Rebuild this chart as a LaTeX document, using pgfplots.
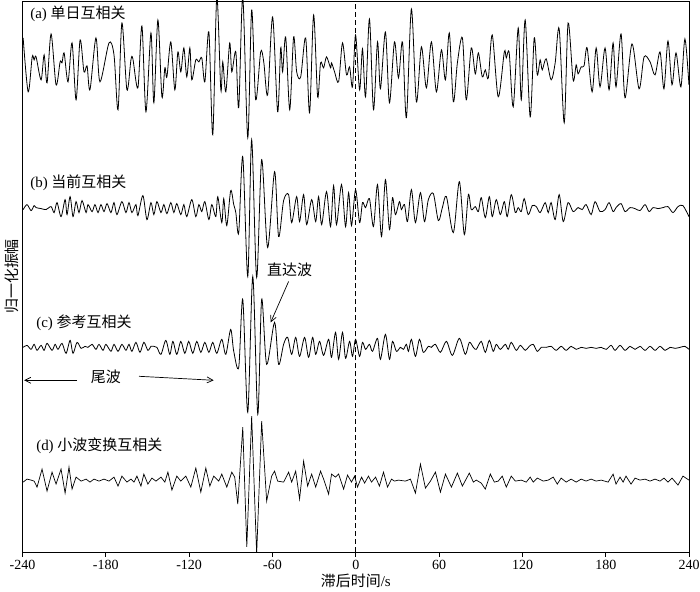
\documentclass[border=0pt]{standalone}
\usepackage{fontspec}
\setmainfont{Liberation Serif}
\newfontfamily\cjk{Noto Sans CJK SC}
\usepackage{pgfplots}
\pgfplotsset{compat=1.18}
\usepackage{pgfplotstable}
\usetikzlibrary{arrows.meta}

% traces: lag time (s), vertical position (trace offset included)
\pgfplotstableread{
t y
-239.5 515
-235.9 461
-233.0 496
-231.6 493
-230.2 496
-226.6 473
-224.4 498
-222.3 470
-219.4 519
-215.8 468
-212.9 491
-211.5 490
-210.0 500
-207.2 471
-204.3 510
-201.4 453
-198.5 513
-195.7 481
-193.5 487
-191.4 463
-187.1 515
-184.2 471
-177.7 510
-174.1 498
-171.2 443
-168.4 530
-164.8 463
-161.9 493
-160.5 494
-156.9 465
-154.0 527
-151.1 441
-147.5 520
-145.4 450
-142.5 533
-139.6 456
-137.5 485
-136.0 476
-133.2 511
-130.3 463
-128.1 501
-126.0 481
-123.8 505
-121.7 476
-119.5 505
-118.1 473
-115.2 493
-113.0 491
-110.9 495
-108.7 471
-105.8 521
-103.0 418
-100.1 556
-97.2 463
-95.8 491
-93.6 461
-90.8 510
-89.3 481
-86.4 501
-84.3 445
-81.4 556
-77.8 415
-75.0 543
-72.1 453
-68.5 501
-66.3 491
-63.5 458
-59.9 536
-56.3 441
-54.1 505
-52.7 481
-50.5 516
-47.6 443
-44.8 516
-42.6 481
-39.7 476
-36.1 515
-33.3 440
-30.4 538
-27.5 456
-25.4 490
-23.2 485
-21.1 496
-18.2 485
-17.5 490
-15.3 481
-12.4 471
-9.6 510
-6.7 478
-4.5 486
-2.4 466
-0.2 518
2.7 463
4.8 504
7.0 456
9.8 534
12.7 443
15.6 511
17.7 464
21.3 521
24.2 450
27.8 511
30.7 475
33.6 511
36.4 435
40.0 544
43.6 451
47.2 506
50.8 465
54.4 511
58.0 461
61.6 503
64.5 473
67.3 520
70.2 451
73.1 490
76.7 515
79.5 453
83.1 505
86.0 479
88.2 500
91.0 476
93.2 483
95.4 475
98.2 518
102.5 456
106.9 501
108.3 495
110.4 500
113.3 446
116.9 525
119.1 453
121.9 533
125.5 436
128.4 515
130.6 478
132.7 493
134.2 483
137.0 494
140.6 473
143.5 490
146.4 524
150.0 430
152.8 530
156.4 473
158.6 488
160.0 479
162.2 486
164.3 487
166.5 505
170.1 461
173.0 505
175.8 466
179.4 505
182.3 463
185.2 510
187.3 466
190.9 519
193.8 455
198.8 509
203.9 464
207.5 496
211.8 491
215.4 478
219.0 501
221.8 464
224.7 512
227.6 468
230.5 500
234.0 466
236.9 514
239.8 468
}\tracea

\pgfplotstableread{
t y
-239.5 343
-236.7 348
-233.8 342
-231.6 347
-230.2 345
-226.6 344
-223.0 343
-219.4 346
-217.2 340
-215.1 350
-212.2 336
-209.3 353
-207.9 338
-205.7 356
-203.6 336
-201.4 351
-199.3 340
-197.1 352
-194.2 340
-192.8 348
-189.9 341
-187.8 348
-185.6 340
-183.5 348
-181.3 341
-179.1 349
-176.3 340
-174.1 350
-172.0 338
-168.4 351
-165.5 340
-163.3 350
-161.2 340
-158.3 348
-156.9 337
-153.3 357
-150.4 333
-147.5 350
-145.4 338
-143.2 351
-140.3 340
-138.2 348
-136.0 339
-133.2 350
-131.0 340
-128.9 349
-126.0 338
-123.8 348
-121.7 336
-118.1 353
-115.2 336
-113.0 348
-110.9 341
-108.7 351
-105.8 333
-103.7 348
-100.8 336
-99.4 356
-96.5 330
-95.1 354
-92.9 327
-90.1 362
-87.9 348
-86.4 340
-84.3 320
-81.4 396
-77.8 276
-75.0 413
-71.4 275
-67.8 393
-63.5 305
-58.5 381
-55.6 316
-52.0 352
-48.4 358
-46.2 330
-42.6 356
-40.5 331
-37.6 358
-35.4 328
-31.8 353
-28.9 331
-26.8 356
-24.6 328
-21.1 361
-18.2 326
-16.0 367
-13.9 328
-10.3 368
-7.4 326
-5.2 360
-3.1 327
-0.2 363
2.7 330
4.8 350
7.0 345
9.8 354
12.7 326
15.6 368
18.5 316
21.3 373
24.2 323
26.4 355
28.5 338
31.4 351
32.8 343
35.0 348
37.2 331
40.0 363
42.9 330
46.5 360
49.4 331
52.2 353
55.8 359
59.4 332
62.3 345
65.2 356
70.2 320
74.5 371
78.1 318
81.0 358
83.1 343
86.0 346
88.2 341
90.3 355
93.2 335
96.1 356
98.2 336
101.1 353
104.0 338
106.9 351
109.0 336
111.9 358
114.8 340
116.9 345
119.1 341
121.2 354
124.1 338
127.0 347
129.9 346
132.7 340
136.3 350
138.5 340
140.6 350
143.5 333
146.4 358
149.3 331
152.8 350
156.4 341
160.0 345
162.9 343
165.8 348
169.4 338
172.2 351
175.8 341
179.4 343
182.3 350
185.2 341
187.3 345
190.9 349
193.8 341
197.4 345
201.0 344
204.6 342
208.2 348
211.1 341
214.0 345
217.5 344
221.1 345
224.7 346
228.3 340
231.9 346
235.5 347
239.8 336
}\traceb

\pgfplotstableread{
t y
-239.5 205
-236.7 207
-233.8 203
-231.6 208
-229.5 202
-226.6 207
-224.4 202
-222.3 209
-218.7 202
-216.5 208
-214.4 203
-211.5 209
-208.6 199
-205.7 212
-203.6 199
-200.7 210
-197.8 204
-195.0 206
-192.8 205
-189.9 208
-187.1 203
-184.9 208
-182.0 202
-179.9 208
-176.3 201
-174.1 208
-171.2 201
-168.4 208
-165.5 202
-163.3 208
-161.2 201
-158.3 210
-155.4 200
-152.6 210
-149.7 202
-147.5 206
-145.4 206
-143.2 205
-140.3 198
-136.8 212
-133.9 198
-131.7 211
-128.9 198
-126.0 211
-123.1 199
-120.3 211
-117.4 199
-114.5 211
-111.6 200
-108.7 210
-105.8 200
-103.0 210
-100.1 199
-96.5 213
-93.6 198
-90.1 223
-87.9 201
-84.3 185
-81.4 253
-77.8 140
-74.2 276
-70.6 138
-67.8 253
-64.2 188
-58.5 230
-55.6 188
-52.0 208
-49.1 215
-46.2 198
-43.3 215
-40.5 196
-36.9 215
-34.0 195
-31.1 215
-28.9 198
-26.1 211
-23.2 197
-19.6 213
-17.5 195
-14.6 220
-12.4 193
-9.6 220
-7.4 194
-4.5 211
-2.4 196
-0.2 213
2.7 196
4.8 210
7.0 203
9.8 208
12.0 201
15.6 214
17.7 193
21.3 218
24.2 193
26.4 211
29.2 201
32.1 205
34.3 203
36.4 208
37.9 201
40.0 213
42.9 196
45.8 213
48.6 200
52.2 206
54.4 205
57.3 208
60.9 200
65.2 211
69.5 197
74.5 214
78.8 198
81.7 210
84.6 205
86.7 203
90.3 211
93.2 200
96.1 212
98.9 201
101.1 208
104.0 203
107.6 208
109.7 203
111.9 210
115.5 202
118.4 207
122.0 202
124.8 206
127.7 208
130.6 201
133.5 205
137.1 205
140.6 206
144.2 202
147.8 206
151.4 202
155.0 206
158.6 203
162.2 205
165.8 204
169.4 205
173.0 204
176.6 205
180.2 203
183.8 207
186.6 202
190.2 207
193.8 202
197.4 206
201.0 203
204.6 206
208.2 202
211.8 206
215.4 202
219.0 206
222.6 202
226.2 205
229.8 204
233.4 205
236.9 206
239.8 203
}\tracec

\pgfplotstableread{
t y
-239.5 70
-236.7 73
-233.8 72
-231.6 71
-229.5 65
-225.9 83
-222.3 61
-218.7 80
-215.8 68
-212.2 83
-209.3 59
-206.5 85
-204.3 63
-201.4 75
-197.8 71
-194.2 73
-191.4 70
-188.5 73
-184.9 71
-181.3 73
-177.7 71
-174.1 75
-171.2 66
-168.4 76
-164.8 70
-161.9 73
-159.7 70
-157.6 76
-154.7 66
-152.6 78
-149.7 68
-146.8 74
-143.9 71
-140.3 75
-137.5 70
-135.3 80
-132.4 62
-128.9 76
-126.0 71
-122.4 76
-118.8 65
-115.2 84
-111.6 60
-108.0 84
-105.1 66
-102.3 76
-98.7 71
-96.5 78
-92.9 65
-89.3 80
-87.2 75
-85.0 48
-81.4 125
-78.5 5
-75.0 136
-71.4 -2
-67.8 131
-64.2 51
-60.6 76
-58.5 81
-56.3 71
-52.0 70
-48.4 80
-46.2 70
-43.3 81
-40.5 53
-37.6 91
-34.7 66
-31.8 78
-28.9 65
-25.4 81
-23.2 73
-19.6 58
-17.5 78
-14.6 75
-12.4 78
-8.8 63
-6.0 77
-3.1 70
-0.9 76
1.2 65
4.1 75
6.3 69
9.1 76
11.3 70
14.2 75
17.0 66
19.9 80
22.8 65
25.7 73
27.8 71
30.7 72
35.7 71
39.3 73
42.9 59
46.5 88
50.1 64
53.7 71
57.3 80
60.9 60
64.5 78
68.8 65
73.1 79
76.7 66
81.7 79
84.6 70
86.7 72
90.3 69
93.2 63
96.8 78
99.7 70
102.5 71
105.4 76
108.3 65
111.9 76
114.8 71
119.1 72
122.7 70
125.5 75
127.7 70
130.6 74
134.9 71
138.5 72
142.1 75
145.0 68
147.8 74
151.4 70
155.0 73
158.6 70
162.2 73
165.8 71
169.4 73
173.0 71
176.6 72
181.6 70
185.2 78
187.3 68
190.2 75
192.4 70
194.5 76
198.1 68
201.0 74
204.6 72
208.2 73
211.8 71
215.4 73
219.0 71
221.8 74
224.7 70
227.6 74
231.9 67
235.5 76
239.8 72
}\traced

\begin{document}
\fontsize{15}{17}\selectfont
\begin{tikzpicture}
\begin{axis}[
    width=668pt, height=552pt, scale only axis,
    xmin=-240, xmax=240, ymin=0, ymax=552,
    xtick={-240,-180,-120,-60,0,60,120,180,240},
    ytick=\empty,
    xtick pos=left, tick align=outside,
    major tick length=5pt,
    axis line style={line width=0.8pt},
    every tick/.style={black, line width=0.8pt},
    /pgf/number format/assume math mode=true,
    xticklabel style={font=\fontsize{14}{16}\selectfont, inner sep=3pt},
    xlabel={{\cjk 滞后时间}/s},
    ylabel={\cjk 归一化振幅},
    ylabel style={at={(axis description cs:0,0.5)}, anchor=south, inner sep=0pt, yshift=4pt},
    xlabel style={at={(axis description cs:0.5,0)}, anchor=north, inner sep=0pt, yshift=-22pt},
]
\draw[dash pattern=on 5pt off 3pt, line width=0.8pt] (axis cs:0,0) -- (axis cs:0,552);

\addplot[black, line width=0.8pt, smooth, tension=0.5] table[x=t, y=y] {\tracea};
\addplot[black, line width=0.8pt, smooth, tension=0.5] table[x=t, y=y] {\traceb};
\addplot[black, line width=0.8pt, smooth, tension=0.5] table[x=t, y=y] {\tracec};
\addplot[black, line width=0.7pt] table[x=t, y=y] {\traced};

\node[anchor=west, inner sep=0pt] at (axis cs:-234.5,539) {(a) {\cjk 单日互相关}};
\node[anchor=west, inner sep=0pt] at (axis cs:-234.5,370) {(b) {\cjk 当前互相关}};
\node[anchor=west, inner sep=0pt] at (axis cs:-230.2,230) {(c) {\cjk 参考互相关}};
\node[anchor=west, inner sep=0pt] at (axis cs:-230.2,106) {(d) {\cjk 小波变换互相关}};
\node at (axis cs:-47.7,283) {\cjk 直达波};
\draw[-{Straight Barb[length=6pt,width=6pt]}, line width=0.7pt] (axis cs:-48.4,271) -- (axis cs:-61.3,230);
\node at (axis cs:-180,175) {\cjk 尾波};
\draw[-{Straight Barb[length=6pt,width=6pt]}, line width=0.7pt] (axis cs:-200.7,172) -- (axis cs:-238.8,172);
\draw[-{Straight Barb[length=6pt,width=6pt]}, line width=0.7pt] (axis cs:-156.1,176) -- (axis cs:-102.3,172);
\end{axis}
\pgfresetboundingbox
\path[use as bounding box] ([xshift=-22.5pt,yshift=-40pt]current axis.south west) rectangle ([xshift=10.8pt,yshift=1pt]current axis.north east);
\end{tikzpicture}
\end{document}
